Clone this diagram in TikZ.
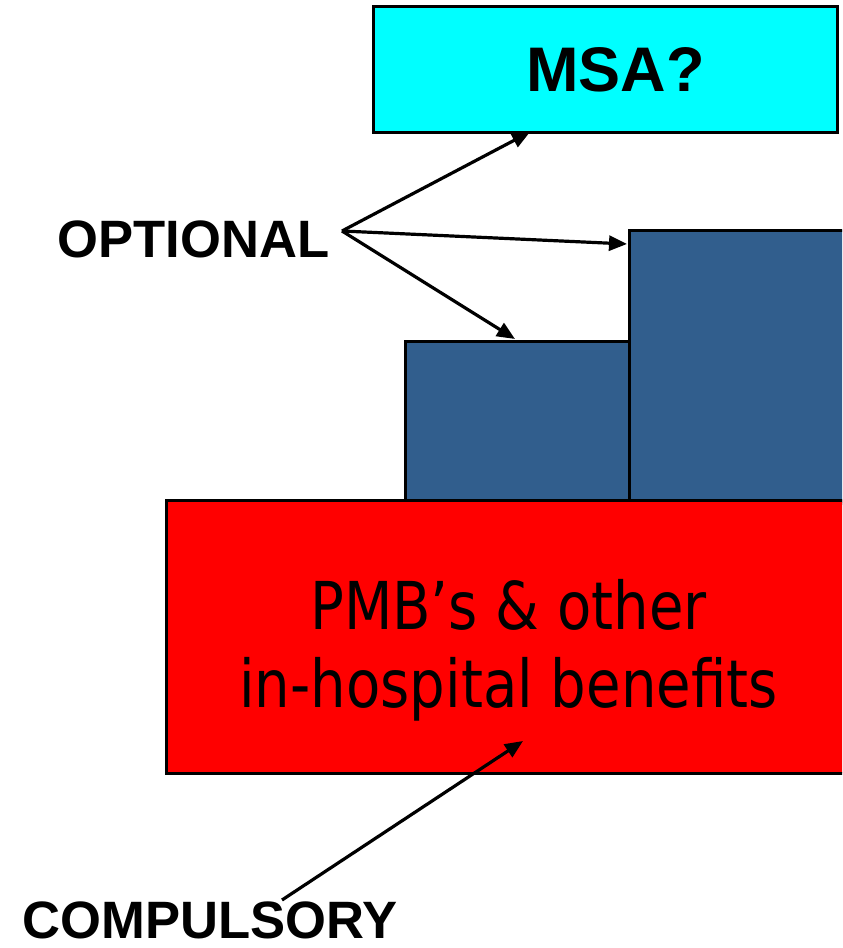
\documentclass[tikz,border=0pt]{standalone}
\usepackage{fontspec}
\setmainfont{Liberation Sans}
\newfontfamily\benefitfont[FakeStretch=0.85]{DejaVu Sans}
\usetikzlibrary{arrows.meta,positioning,calc}
\definecolor{msacyan}{RGB}{0,255,255}
\definecolor{optblue}{RGB}{49,94,141}
\definecolor{pmbred}{RGB}{255,0,0}

\begin{document}
\begin{tikzpicture}[
    x=0.5pt, y=0.5pt,
    blk/.style={rectangle, draw=black, line width=1.5pt, inner sep=0pt,
                anchor=south west},
    lab/.style={font=\fontsize{26.3}{30}\selectfont\bfseries, inner sep=0pt,
                anchor=base west},
    arr/.style={-{Triangle[length=9pt,width=7.5pt]}, line width=1.6pt}
]
\useasboundingbox (0,0) rectangle (842,948);
\clip (0,0) rectangle (842,948);

% Benefit blocks
\node[blk, fill=optblue, minimum width=111pt, minimum height=136.5pt]
  (tall) at (628,443) {};
\node[blk, fill=optblue, minimum width=112pt, minimum height=81pt]
  (short) at (404,443) {};
\node[blk, fill=pmbred, minimum width=342pt, minimum height=136.5pt]
  (pmb) at (165,173) {};
\node[font=\benefitfont\fontsize{33}{39}\selectfont, align=center,
      inner sep=0pt, yshift=-6.5pt]
  (pmbtext) at (pmb.center) {PMB’s \& other\\in-hospital benefits};
\node[blk, fill=msacyan, minimum width=232pt, minimum height=63pt,
      font=\fontsize{31.5}{34}\selectfont\bfseries]
  (msa) at (372,814) {\hspace*{10pt}MSA?};

% Labels
\node[lab] (opt) at (57,690) {OPTIONAL};
\node[lab] (comp) at (22,10) {COMPULSORY};
\coordinate (fork) at (342,717);
\coordinate (cstart) at (282,48);
\coordinate (ctip) at (523,207);

\draw[arr] (fork) -- ($(msa.south west)+(158,2)$);
\draw[arr] (fork) -- ($(tall.north west)+(-1,-15)$);
\draw[arr] (fork) -- ($(short.north west)+(111,1)$);
\draw[arr] (cstart) -- (ctip);
\end{tikzpicture}
\end{document}
